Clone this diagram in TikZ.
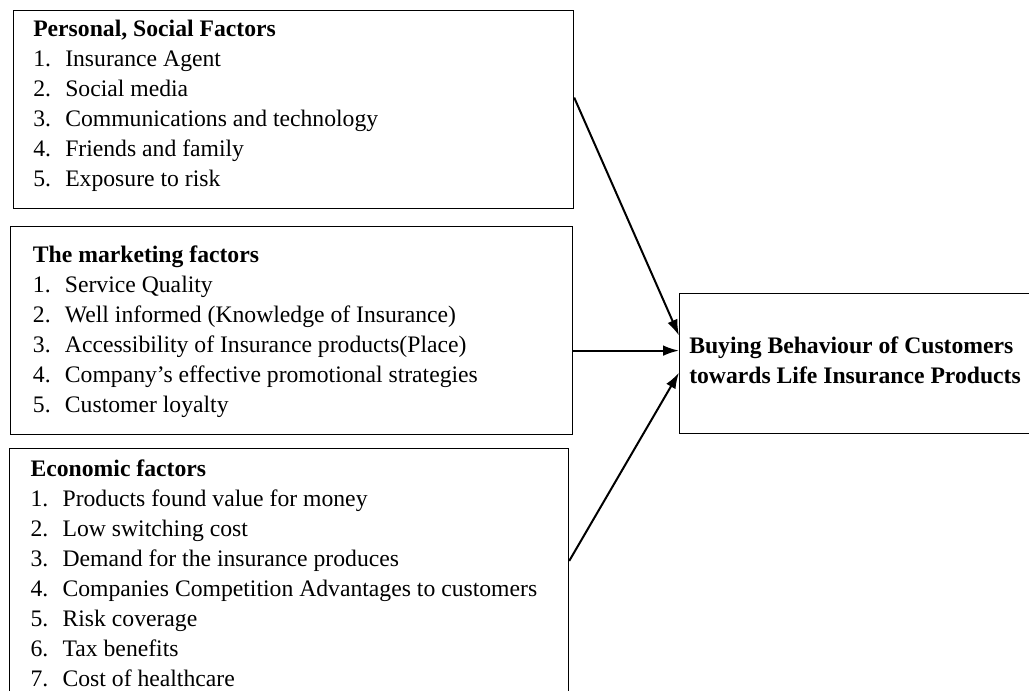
\documentclass[tikz,border=0pt]{standalone}
\usepackage{fontspec}
\setmainfont{Liberation Serif}
\usetikzlibrary{arrows.meta}

\newcommand{\li}[2]{\makebox[24pt][l]{#1.}#2}

\begin{document}
\begin{tikzpicture}[x=0.75pt,y=-0.75pt,
    factorbox/.style={draw, line width=0.9pt, inner sep=0pt, anchor=north west},
    listtext/.style={align=left, inner sep=0pt, anchor=north west, font=\fontsize{17.75pt}{22.5pt}\selectfont},
    headtext/.style={listtext, font=\fontsize{17.75pt}{22.5pt}\selectfont\bfseries},
    flow/.style={-{Latex[length=12pt,width=8pt]}, line width=1.5pt}]

    \useasboundingbox (0,0) rectangle (1029,691);
    \clip (0,0) rectangle (1029,691);

    % Draw the factor boxes
    \node[factorbox, minimum width=420pt, minimum height=148.5pt] (pers) at (13,10) {};
    \node[factorbox, minimum width=421.5pt, minimum height=156pt] (mark) at (10,226) {};
    \node[factorbox, minimum width=419.25pt, minimum height=200pt] (econ) at (9,448) {};

    % Draw the buying behaviour box
    \node[factorbox, minimum width=275pt, minimum height=105pt] (buy) at (679,293) {};

    % Write the factor lists
    \node[listtext] (pers-list) at ([xshift=15pt,yshift=-7pt]pers.north west) {\textbf{Personal, Social Factors}\\
        \li{1}{Insurance Agent}\\ \li{2}{Social media}\\ \li{3}{Communications  and technology}\\
        \li{4}{Friends and family}\\ \li{5}{Exposure to risk}};
    \node[listtext] (mark-list) at ([xshift=17pt,yshift=-15pt]mark.north west) {\textbf{The marketing factors}\\
        \li{1}{Service Quality}\\ \li{2}{Well informed (Knowledge of Insurance)}\\
        \li{3}{Accessibility of Insurance products(Place)}\\ \li{4}{Company's effective  promotional  strategies}\\
        \li{5}{Customer loyalty}};
    \node[listtext] (econ-list) at ([xshift=16pt,yshift=-8.5pt]econ.north west) {\textbf{Economic factors}\\
        \li{1}{Products found value  for money}\\ \li{2}{Low switching cost}\\
        \li{3}{Demand for the insurance produces}\\ \li{4}{Companies Competition  Advantages to customers}\\
        \li{5}{Risk coverage}\\ \li{6}{Tax benefits}\\ \li{7}{Cost of healthcare}};

    % Write the buying behaviour text
    \node[headtext] (buy-text) at ([xshift=7.5pt,yshift=-33pt]buy.north west) {Buying Behaviour of Customers\\ towards Life Insurance Products};

    % Draw the arrows
    \draw[flow] ([yshift=9pt]pers.east) -- ([yshift=21pt]buy.west);
    \draw[flow] ([yshift=-15pt]mark.east) -- ([yshift=9.75pt]buy.west);
    \draw[flow] ([yshift=15.75pt]econ.east) -- ([yshift=-6.75pt]buy.west);

\end{tikzpicture}
\end{document}
